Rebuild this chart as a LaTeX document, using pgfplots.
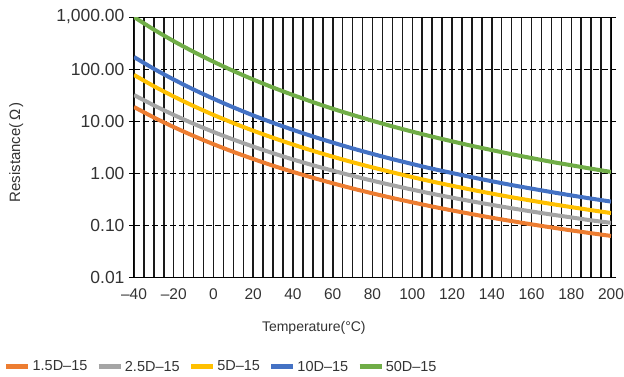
\documentclass[border=0pt]{standalone}
\usepackage{fontspec}
\setmainfont{Liberation Sans}
\usepackage{pgfplots}
\pgfplotsset{compat=1.18}
\definecolor{cOrange}{HTML}{ED7D31}
\definecolor{cGray}{HTML}{A5A5A5}
\definecolor{cYellow}{HTML}{FFC000}
\definecolor{cBlue}{HTML}{4472C4}
\definecolor{cGreen}{HTML}{70AD47}
\begin{document}
\begin{tikzpicture}
\path[use as bounding box] (0,0) rectangle (624pt,376pt);
\begin{axis}[
  at={(134pt,99pt)}, anchor=south west,
  scale only axis, width=477pt, height=260pt,
  ymode=log, ymin=0.01, ymax=1000,
  xmin=-40, xmax=200,
  xtick={-40,-20,0,20,40,60,80,100,120,140,160,180,200},
  xticklabels={--40,--20,0,20,40,60,80,100,120,140,160,180,200},
  minor x tick num=3,
  ytick={0.01,0.1,1,10,100,1000},
  yticklabels={0.01,0.10,1.00,10.00,100.00,{1,000.00}},
  yminorticks=false,
  xmajorgrids, xminorgrids, ymajorgrids,
  major x grid style={black!90, line width=1.5pt},
  minor x grid style={black!90, line width=1.5pt},
  major y grid style={black, line width=1pt, dash pattern=on 6pt off 3pt},
  axis line style={black, line width=1pt},
  x tick style={draw=none},
  minor x tick style={draw=none},
  y tick style={black, line width=1pt},
  tick align=outside, major tick length=5pt,
  xticklabel style={font=\fontsize{15.5}{18}\selectfont, text=black!80, yshift=-3pt},
  yticklabel style={font=\fontsize{17.5}{20}\selectfont, text=black!80, xshift=-1pt},
  xlabel={Temperature(°C)},
  ylabel={Resistance(\,Ω\,)},
  xlabel style={font=\fontsize{14}{16}\selectfont, text=black!80, at={(axis description cs:0.377,-0.196)}, anchor=center},
  ylabel style={font=\fontsize{15}{17}\selectfont, text=black!80, at={(axis description cs:-0.247,0.48)}, anchor=center},
  legend columns=5,
  legend style={at={(axis description cs:-0.279,-0.345)}, anchor=west, draw=none, fill=none,
    font=\fontsize{14.5}{16}\selectfont, text=black!80,
    /tikz/every even column/.append style={column sep=7pt}},
  legend image code/.code={\draw[#1, line width=4.5pt] (0pt,0pt) -- (22pt,0pt);},
  legend cell align=left,
  every axis plot/.append style={line width=4pt, smooth},
]
\addplot[cOrange] coordinates {(-40,18.6)(-30,11.7)(-20,7.65)(-10,5.16)(0,3.58)(10,2.55)(20,1.86)(30,1.38)(40,1.05)(50,0.810)(60,0.635)(70,0.504)(80,0.406)(90,0.331)(100,0.273)(110,0.227)(120,0.191)(130,0.162)(140,0.138)(150,0.119)(160,0.103)(170,0.0898)(180,0.0788)(190,0.0695)(200,0.0617)};
\addlegendentry{1.5D–15}
\addplot[cGray] coordinates {(-40,31.6)(-30,20.0)(-20,13.1)(-10,8.85)(0,6.16)(10,4.40)(20,3.22)(30,2.40)(40,1.82)(50,1.41)(60,1.11)(70,0.882)(80,0.711)(90,0.581)(100,0.479)(110,0.399)(120,0.336)(130,0.285)(140,0.244)(150,0.210)(160,0.182)(170,0.159)(180,0.140)(190,0.123)(200,0.110)};
\addlegendentry{2.5D–15}
\addplot[cYellow] coordinates {(-40,77)(-30,46.7)(-20,29.6)(-10,19.4)(0,13.1)(10,9.13)(20,6.51)(30,4.75)(40,3.53)(50,2.67)(60,2.06)(70,1.61)(80,1.28)(90,1.03)(100,0.834)(110,0.685)(120,0.569)(130,0.476)(140,0.402)(150,0.342)(160,0.294)(170,0.254)(180,0.221)(190,0.193)(200,0.170)};
\addlegendentry{5D–15}
\addplot[cBlue] coordinates {(-40,170)(-30,101)(-20,62.7)(-10,40.3)(0,26.8)(10,18.3)(20,12.8)(30,9.21)(40,6.76)(50,5.05)(60,3.85)(70,2.97)(80,2.33)(90,1.85)(100,1.49)(110,1.21)(120,1.00)(130,0.830)(140,0.695)(150,0.587)(160,0.501)(170,0.430)(180,0.371)(190,0.322)(200,0.282)};
\addlegendentry{10D–15}
\addplot[cGreen] coordinates {(-40,1000)(-30,573)(-20,343)(-10,214)(0,138)(10,91.8)(20,62.7)(30,44.0)(40,31.6)(50,23.1)(60,17.2)(70,13.1)(80,10.1)(90,7.89)(100,6.25)(110,5.01)(120,4.07)(130,3.33)(140,2.76)(150,2.30)(160,1.94)(170,1.64)(180,1.41)(190,1.21)(200,1.05)};
\addlegendentry{50D–15}
\end{axis}
\end{tikzpicture}
\end{document}
